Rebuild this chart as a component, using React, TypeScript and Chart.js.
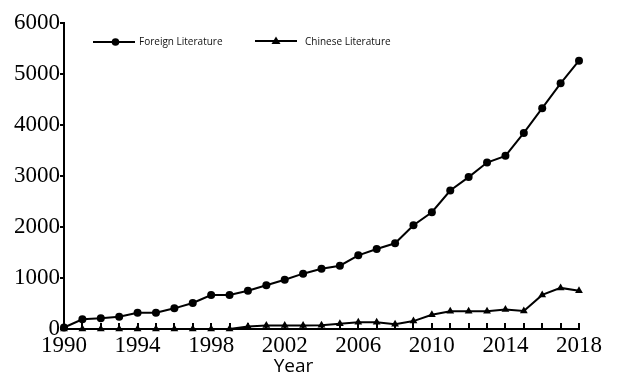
import React, { useEffect, useRef } from "react";
import { Chart, registerables } from "chart.js";

Chart.register(...registerables);

const years = [
  "1990", "1991", "1992", "1993", "1994", "1995", "1996", "1997", "1998", "1999",
  "2000", "2001", "2002", "2003", "2004", "2005", "2006", "2007", "2008", "2009",
  "2010", "2011", "2012", "2013", "2014", "2015", "2016", "2017", "2018",
];
const xTickLabels = ["1990", "1994", "1998", "2002", "2006", "2010", "2014", "2018"];
const foreignLiterature = [
  30, 190, 210, 240, 320, 320, 405, 510, 667, 667,
  750, 857, 967, 1085, 1183, 1241, 1445, 1569, 1680, 2035,
  2290, 2716, 2978, 3264, 3395, 3845, 4329, 4818, 5260,
];
const chineseLiterature = [
  0, 0, 0, 0, 0, 0, 0, 0, 0, 0,
  50, 70, 70, 70, 75, 105, 130, 130, 92, 155,
  280, 350, 350, 350, 382, 355, 668, 806, 748,
];
const seriesNames = ["Foreign Literature", "Chinese Literature"];
const xAxisTitle = "Year";
const yMin = 0;
const yMax = 6000;
const yStep = 1000;

const W = 617;
const H = 378;

const axisExtras = {
  id: "axisExtras",
  beforeDatasetsDraw(chart: any) {
    const { ctx, chartArea, scales } = chart;
    const x = scales.x;
    ctx.save();
    ctx.strokeStyle = "#000";
    ctx.lineWidth = 2;
    x.ticks.forEach((_t: any, i: number) => {
      const px = Math.round(x.getPixelForTick(i));
      ctx.beginPath();
      ctx.moveTo(px, chartArea.bottom);
      ctx.lineTo(px, chartArea.bottom - 6);
      ctx.stroke();
    });
    ctx.restore();
  },
  afterDraw(chart: any) {
    const { ctx, chartArea } = chart;
    ctx.save();
    ctx.font = '19px "Open Sans"';
    ctx.fillStyle = "#000";
    ctx.textAlign = "center";
    ctx.textBaseline = "middle";
    ctx.fillText(xAxisTitle, (chartArea.left + chartArea.right) / 2 - 28, 367);
    ctx.restore();
  },
};

export default function App() {
  const canvasRef = useRef<HTMLCanvasElement | null>(null);

  useEffect(() => {
    document.body.style.margin = "0";
    const canvas = canvasRef.current;
    if (!canvas) return;
    const chart = new Chart(canvas, {
      type: "line",
      data: {
        labels: years,
        datasets: [
          {
            label: seriesNames[0],
            data: foreignLiterature,
            borderColor: "#000",
            backgroundColor: "#000",
            borderWidth: 2,
            pointStyle: "circle",
            pointRadius: 4,
            pointBorderWidth: 0,
            tension: 0,
            clip: false as any,
          },
          {
            label: seriesNames[1],
            data: chineseLiterature,
            borderColor: "#000",
            backgroundColor: "#000",
            borderWidth: 2,
            pointStyle: "triangle",
            pointRadius: 4.5,
            pointBorderWidth: 0,
            tension: 0,
            clip: false as any,
          },
        ],
      },
      options: {
        responsive: false,
        animation: false,
        layout: { padding: { left: 0, right: 38, top: 23, bottom: 0 } },
        plugins: {
          legend: { display: false },
          tooltip: { enabled: false },
        },
        scales: {
          x: {
            type: "category",
            offset: false,
            border: { display: true, color: "#000", width: 2 },
            grid: { display: true, drawOnChartArea: false, drawTicks: false, color: "rgba(0,0,0,0)" },
            ticks: {
              autoSkip: false,
              maxRotation: 0,
              minRotation: 0,
              padding: 3,
              color: "#000",
              font: { family: '"Liberation Serif"', size: 23 },
              callback: (_v: any, i: number) => (xTickLabels.includes(years[i]) ? years[i] : ""),
            },
            afterFit: (scale: any) => {
              scale.height = 49;
            },
          },
          y: {
            min: yMin,
            max: yMax,
            border: { display: true, color: "#000", width: 2 },
            grid: { drawOnChartArea: false, drawTicks: true, tickLength: 4, color: "#000", lineWidth: 2 },
            ticks: {
              stepSize: yStep,
              padding: 0,
              color: "#000",
              font: { family: '"Liberation Serif"', size: 23 },
              callback: (v: any) => String(v),
            },
            afterFit: (scale: any) => {
              scale.width = 64;
            },
          },
        },
      },
      plugins: [axisExtras],
    });
    return () => chart.destroy();
  }, []);

  const legendText: React.CSSProperties = {
    position: "absolute",
    top: 34,
    font: '10px "Open Sans"',
    color: "#111",
    lineHeight: "14px",
    whiteSpace: "nowrap",
  };

  return (
    <div style={{ position: "fixed", left: 0, top: 0, width: W, height: H, background: "#fff" }}>
      <canvas ref={canvasRef} width={W} height={H} style={{ display: "block" }} />
      <svg style={{ position: "absolute", left: 93, top: 36 }} width={44} height={12}>
        <line x1={0} y1={6} x2={42} y2={6} stroke="#000" strokeWidth={2} />
        <circle cx={22.5} cy={6} r={3.8} fill="#000" />
      </svg>
      <div style={{ ...legendText, left: 139 }}>{seriesNames[0]}</div>
      <svg style={{ position: "absolute", left: 255, top: 35 }} width={44} height={12}>
        <line x1={0} y1={6} x2={42} y2={6} stroke="#000" strokeWidth={2} />
        <polygon points="21,1.5 25.5,9 16.5,9" fill="#000" />
      </svg>
      <div style={{ ...legendText, left: 305 }}>{seriesNames[1]}</div>
    </div>
  );
}
